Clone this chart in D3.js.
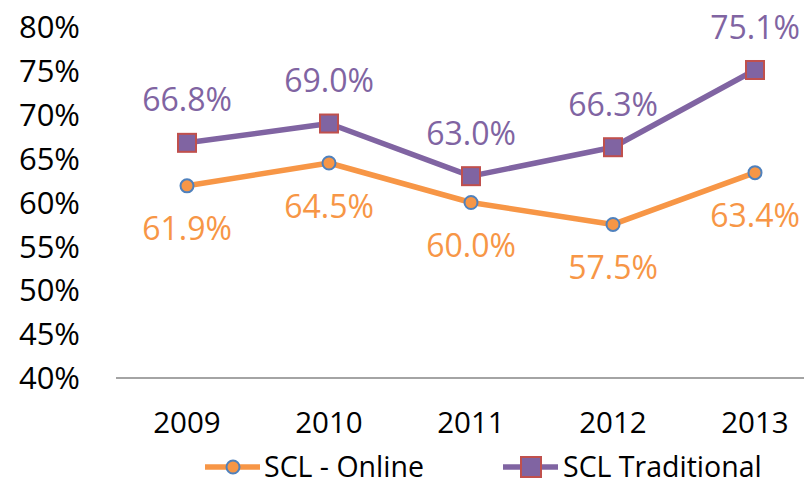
<!DOCTYPE html>
<html>
<head>
<meta charset="utf-8">
<script src="https://cdn.jsdelivr.net/npm/d3@7"></script>
<style>
  body { margin: 0; background: #fff; }
  svg text { font-family: "Open Sans", "Noto Sans", sans-serif; }
</style>
</head>
<body>
<figure id="chart" style="margin:0"></figure>
<script>
const years = ["2009", "2010", "2011", "2012", "2013"];
const onlineValues = [61.9, 64.5, 60.0, 57.5, 63.4];
const traditionalValues = [66.8, 69.0, 63.0, 66.3, 75.1];
const yTicks = [40, 45, 50, 55, 60, 65, 70, 75, 80];
const seriesNames = ["SCL - Online", "SCL Traditional"];

const width = 804, height = 486;
const orange = "#F79646", purple = "#8064A2";

const svg = d3.select("#chart")
  .append("svg")
  .attr("width", width)
  .attr("height", height);

// x band scale, plot area runs off the right edge like the original
const x = d3.scaleBand()
  .domain(years)
  .range([116, 826]);
const cx = d => x(d) + x.bandwidth() / 2;

const y = d3.scaleLinear()
  .domain([40, 80])
  .range([378, 27]);

// y tick labels
svg.append("g")
  .selectAll("text")
  .data(yTicks)
  .enter()
  .append("text")
  .attr("x", 80)
  .attr("y", d => y(d))
  .attr("dy", "0.36em")
  .attr("text-anchor", "end")
  .attr("font-size", 31)
  .attr("fill", "#000")
  .text(d => d + "%");

// x axis line
svg.append("line")
  .attr("x1", 116).attr("x2", width)
  .attr("y1", y(40)).attr("y2", y(40))
  .attr("stroke", "#868686")
  .attr("stroke-width", 1.3);

svg.append("g")
  .selectAll("text")
  .data(years)
  .enter()
  .append("text")
  .attr("x", d => cx(d))
  .attr("y", 422)
  .attr("dy", "0.36em")
  .attr("text-anchor", "middle")
  .attr("font-size", 29.5)
  .text(d => d);

const line = d3.line()
  .x((d, i) => cx(years[i]))
  .y(d => y(d));

// online series
svg.append("path")
  .datum(onlineValues)
  .attr("d", line)
  .attr("fill", "none")
  .attr("stroke", orange)
  .attr("stroke-width", 5.5)
  .attr("stroke-linejoin", "round");

svg.append("g")
  .selectAll("circle")
  .data(onlineValues)
  .enter()
  .append("circle")
  .attr("cx", (d, i) => cx(years[i]))
  .attr("cy", d => y(d))
  .attr("r", 6.5)
  .attr("fill", orange)
  .attr("stroke", "#4F81BD")
  .attr("stroke-width", 2);

svg.append("g")
  .selectAll("text")
  .data(onlineValues)
  .enter()
  .append("text")
  .attr("x", (d, i) => cx(years[i]))
  .attr("y", d => y(d) + 43)
  .attr("dy", "0.36em")
  .attr("text-anchor", "middle")
  .attr("font-size", 32)
  .attr("fill", orange)
  .text(d => d.toFixed(1) + "%");

// traditional series
svg.append("path")
  .datum(traditionalValues)
  .attr("d", line)
  .attr("fill", "none")
  .attr("stroke", purple)
  .attr("stroke-width", 5.5)
  .attr("stroke-linejoin", "round");

svg.append("g")
  .selectAll("rect")
  .data(traditionalValues)
  .enter()
  .append("rect")
  .attr("x", (d, i) => cx(years[i]) - 9)
  .attr("y", d => y(d) - 9)
  .attr("width", 18)
  .attr("height", 18)
  .attr("fill", purple)
  .attr("stroke", "#C0504D")
  .attr("stroke-width", 2);

svg.append("g")
  .selectAll("text")
  .data(traditionalValues)
  .enter()
  .append("text")
  .attr("x", (d, i) => cx(years[i]))
  .attr("y", d => y(d) - 43)
  .attr("dy", "0.36em")
  .attr("text-anchor", "middle")
  .attr("font-size", 32)
  .attr("fill", purple)
  .text(d => d.toFixed(1) + "%");

// legend (kept just inside the bottom edge)
const legendY = 467;
const legend = svg.append("g");
const lgOnline = legend.append("g").attr("transform", "translate(205," + legendY + ")");
lgOnline.append("line").attr("x1", 0).attr("x2", 55).attr("stroke", orange).attr("stroke-width", 5.5);
lgOnline.append("circle").attr("cx", 28).attr("r", 6.5).attr("fill", orange).attr("stroke", "#4F81BD").attr("stroke-width", 2);
lgOnline.append("text").attr("x", 59).attr("dy", "0.36em").attr("font-size", 28.5).text(seriesNames[0]);

const lgTrad = legend.append("g").attr("transform", "translate(503," + legendY + ")");
lgTrad.append("line").attr("x1", 0).attr("x2", 55).attr("stroke", purple).attr("stroke-width", 5.5);
lgTrad.append("rect").attr("x", 18).attr("y", -10).attr("width", 20).attr("height", 20)
  .attr("fill", purple).attr("stroke", "#C0504D").attr("stroke-width", 2);
lgTrad.append("text").attr("x", 60).attr("dy", "0.36em").attr("font-size", 28.5).text(seriesNames[1]);
</script>
</body>
</html>
